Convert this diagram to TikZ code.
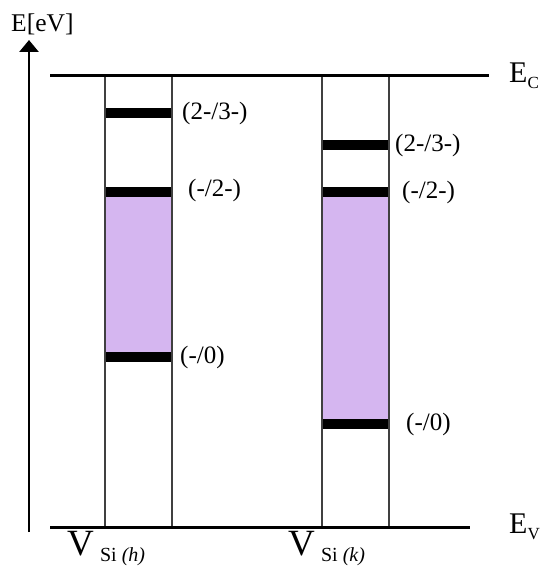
\documentclass[tikz,border=0pt]{standalone}
\usepackage{fontspec}
\setmainfont{Liberation Serif}
\usetikzlibrary{arrows.meta}
\definecolor{lav}{RGB}{213,182,240}
\definecolor{boxgray}{RGB}{64,64,64}
\begin{document}
\begin{tikzpicture}[x=1pt,y=-1pt,
  levelbar/.style={line width=10pt},
  boxline/.style={draw=boxgray,line width=2.3pt},
  bandline/.style={line width=3pt},
  lbl/.style={font=\fontsize{25}{25}\selectfont,anchor=west,inner sep=0pt},
  bigl/.style={inner sep=0pt,anchor=west}]
\useasboundingbox (0,0) rectangle (543,569);
% purple regions
\fill[lav] (105,197) rectangle (172,352);
\fill[lav] (322,197) rectangle (389,419);
% defect levels
\draw[levelbar] (105,113) -- (172,113);
\draw[levelbar] (105,192) -- (172,192);
\draw[levelbar] (105,357) -- (172,357);
\draw[levelbar] (322,145) -- (389,145);
\draw[levelbar] (322,192) -- (389,192);
\draw[levelbar] (322,424) -- (389,424);
% boxes
\draw[boxline] (105,76) rectangle (172,527);
\draw[boxline] (322,76) rectangle (389,527);
% band edges
\draw[bandline] (50,76) -- (489,76);
\draw[bandline] (50,527) -- (470,527);
% energy axis
\coordinate (ax0) at (29,532);
\coordinate (ax1) at (29,40);
\draw[line width=2.8pt,-{Triangle[width=19pt,length=12pt]}] (ax0) -- (ax1);
\node[bigl,font=\fontsize{25.5}{25.5}\selectfont] (axl) at (11,24) {E[eV]};
% labels
\node[lbl] (l1) at (182,113) {(2-/3-)};
\node[lbl] (l2) at (188,190) {(-/2-)};
\node[lbl] (l3) at (180,357) {(-/0)};
\node[lbl] (r1) at (395,145) {(2-/3-)};
\node[lbl] (r2) at (402,192) {(-/2-)};
\node[lbl] (r3) at (406,424) {(-/0)};
\node[bigl] (ec) at (509,76) {\fontsize{30}{30}\selectfont E\raisebox{-6pt}{\fontsize{17}{17}\selectfont C}};
\node[bigl] (ev) at (509,527) {\fontsize{30}{30}\selectfont E\raisebox{-6pt}{\fontsize{17}{17}\selectfont V}};
\node[bigl] (vh) at (67,549) {\fontsize{37}{37}\selectfont V\,\raisebox{-6pt}{\fontsize{20}{20}\selectfont Si \textit{(h)}}};
\node[bigl] (vk) at (288,549) {\fontsize{37}{37}\selectfont V\,\raisebox{-6pt}{\fontsize{20}{20}\selectfont Si \textit{(k)}}};
\end{tikzpicture}
\end{document}
